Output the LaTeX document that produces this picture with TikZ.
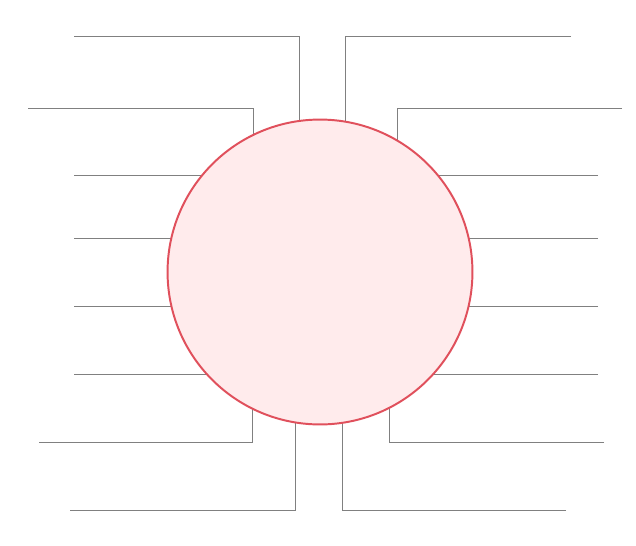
\documentclass[tikz,border=0pt]{standalone}
\usepackage{tikz}
\usetikzlibrary{positioning}

\definecolor{leadergray}{HTML}{808080}
\definecolor{bubblered}{HTML}{E0505C}
\definecolor{bubblefill}{HTML}{FFEBEC}

\begin{document}
\begin{tikzpicture}[x=0.025cm, y=-0.025cm,
    leader/.style={leadergray, line width=0.7pt},
    bubble/.style={circle, draw=bubblered, fill=bubblefill, line width=1.4pt,
        inner sep=0pt, minimum size=7.62cm}]
    \useasboundingbox (0,0) rectangle (636,545);

    % Centre of the bubble
    \coordinate (c) at (320,272);

    % Draw the straight leaders
    \foreach \ya in {175,238,306,374} {
        \draw[leader] (74,\ya) -- (c |- 0,\ya);
        \draw[leader] (598,\ya) -- (c |- 0,\ya);
    }

    % Draw the bent leaders
    \foreach \xa/\xb/\ya in {74/299/36, 28/253/108, 39/252/442, 70/295/510,
                             571/345/36, 622/397/108, 604/389/442, 566/342/510}
        \draw[leader] (\xa,\ya) -- (\xb,\ya) -- (\xb,272);

    % Draw the bubble on top
    \node[bubble] (hub) at (c) {};
\end{tikzpicture}
\end{document}
